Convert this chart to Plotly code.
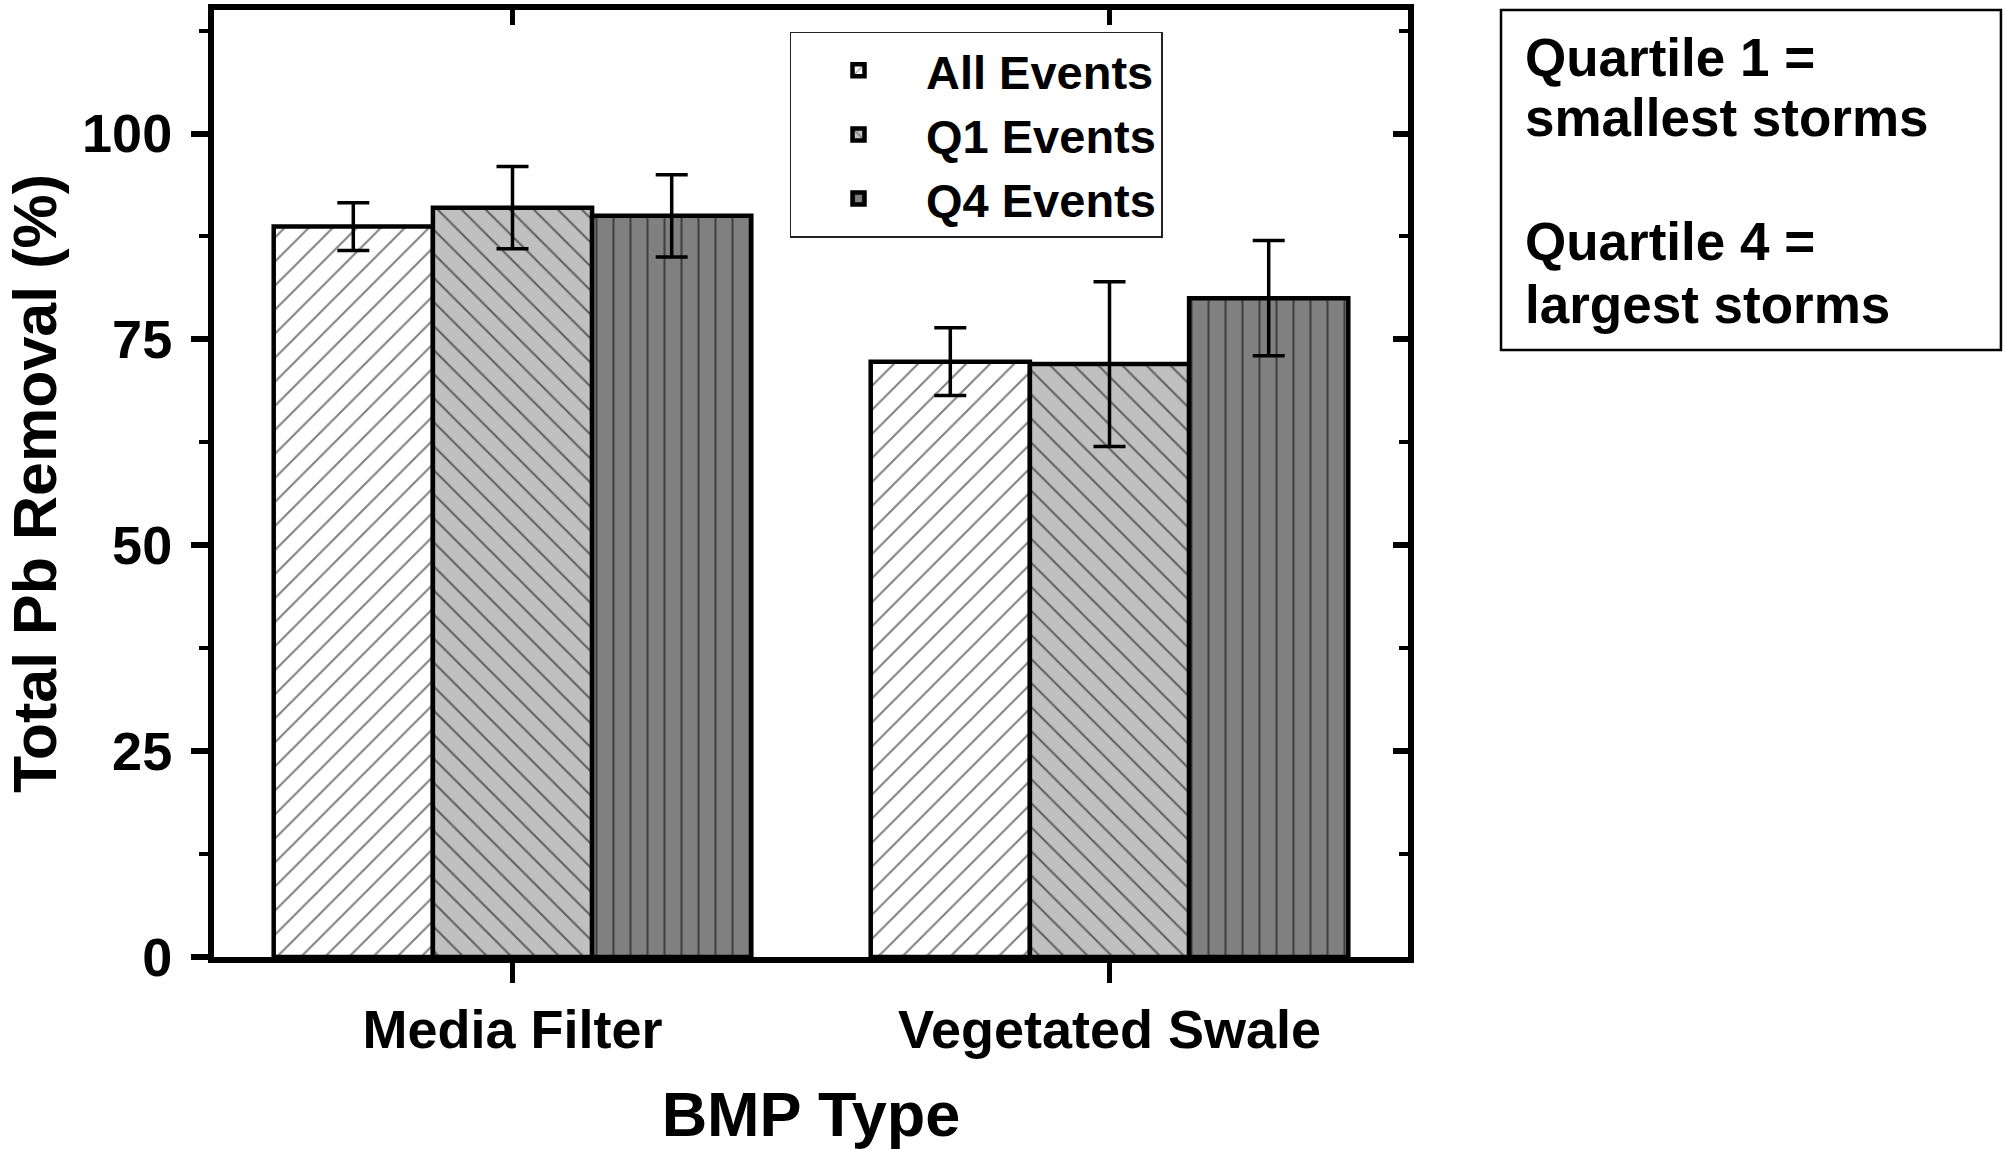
import plotly.graph_objects as go

categories = ["Media Filter", "Vegetated Swale"]
series_names = ["All Events", "Q1 Events", "Q4 Events"]
all_events = [88.7, 72.3]
all_events_err = [2.9, 4.1]
q1_events = [91.0, 72.0]
q1_events_err = [5.0, 10.0]
q4_events = [90.0, 80.0]
q4_events_err = [5.0, 7.0]
y_ticks = [0, 25, 50, 75, 100]
note_lines = ["Quartile 1 =", "smallest storms", "Quartile 4 =", "largest storms"]

values = [all_events, q1_events, q4_events]
errors = [all_events_err, q1_events_err, q4_events_err]
fills = ["#ffffff", "#c0c0c0", "#808080"]
shapes = ["/", "\\", "|"]

FONT = "Liberation Sans, Arial, sans-serif"

fig = go.Figure()
for name, v, e, fc, sh in zip(series_names, values, errors, fills, shapes):
    fig.add_trace(go.Bar(
        name=name, x=categories, y=v,
        marker=dict(color=fc, line=dict(color="black", width=4.5),
                    pattern=dict(shape=sh, fgcolor="black", bgcolor=fc,
                                 fillmode="overlay", size=17, solidity=0.12)),
        error_y=dict(type="data", array=e, visible=True, color="black",
                     thickness=3.5, width=16),
    ))

# invisible companion trace so the mirrored (top/right) axes get drawn
fig.add_trace(go.Scatter(x=categories, y=q4_events, xaxis="x2", yaxis="y2",
                         mode="markers", marker=dict(opacity=0), showlegend=False,
                         hoverinfo="skip"))

axis_font = dict(family=FONT, size=54, color="black", weight="bold")
title_font = dict(family=FONT, size=61, color="black", weight="bold")

note_y = [0.950, 0.887, 0.756, 0.689]
annotations = [dict(xref="paper", yref="paper", x=1.0963, y=yy, xanchor="left", yanchor="middle",
                    text=t, showarrow=False, align="left",
                    font=dict(family=FONT, size=53, color="black", weight="bold"))
               for t, yy in zip(note_lines, note_y)]

fig.update_layout(
    width=2007, height=1149,
    margin=dict(l=214, r=599, t=10, b=186),
    plot_bgcolor="white", paper_bgcolor="white",
    barmode="group", bargap=0.2, bargroupgap=0,
    font=dict(family=FONT, color="black"),
    xaxis=dict(range=[-0.5, 1.5], showline=True, linecolor="black", linewidth=6,
               ticks="outside", ticklen=20, tickwidth=5, tickcolor="black",
               tickfont=axis_font,
               title=dict(text="BMP Type", font=dict(family=FONT, size=63, color="black", weight="bold"),
                          standoff=36),
               showgrid=False, zeroline=False),
    yaxis=dict(range=[0, 115], tickvals=y_ticks, showline=True, linecolor="black", linewidth=6,
               ticks="outside", ticklen=17, tickwidth=6, tickcolor="black",
               minor=dict(dtick=12.5, tick0=0, ticks="outside", ticklen=9, tickwidth=4, tickcolor="black"),
               tickfont=axis_font, ticklabelstandoff=8,
               title=dict(text="Total Pb Removal (%)", font=title_font, standoff=8),
               showgrid=False, zeroline=False),
    xaxis2=dict(overlaying="x", side="top", anchor="y", type="category",
                range=[-0.5, 1.5], tickvals=categories,
                showline=True, linecolor="black", linewidth=6,
                ticks="inside", ticklen=15, tickwidth=5, tickcolor="black",
                showticklabels=False, showgrid=False, zeroline=False),
    yaxis2=dict(overlaying="y", side="right", anchor="x", range=[0, 115], tickvals=y_ticks,
                showline=True, linecolor="black", linewidth=6,
                ticks="inside", ticklen=15, tickwidth=6, tickcolor="black",
                minor=dict(dtick=12.5, tick0=0, ticks="inside", ticklen=9, tickwidth=4, tickcolor="black"),
                showticklabels=False, showgrid=False, zeroline=False),
    legend=dict(x=0.482, y=0.977, xanchor="left", yanchor="top",
                bgcolor="white", bordercolor="#222", borderwidth=1.5,
                font=dict(family=FONT, size=47, color="black", weight="bold"),
                itemwidth=125, tracegroupgap=0),
    annotations=annotations,
    shapes=[dict(type="rect", xref="paper", yref="paper",
                 x0=1.0779, x1=1.4966, y0=0.6411, y1=1.0,
                 line=dict(color="black", width=2.5), fillcolor="rgba(0,0,0,0)")],
)

fig.write_html("out.html")
